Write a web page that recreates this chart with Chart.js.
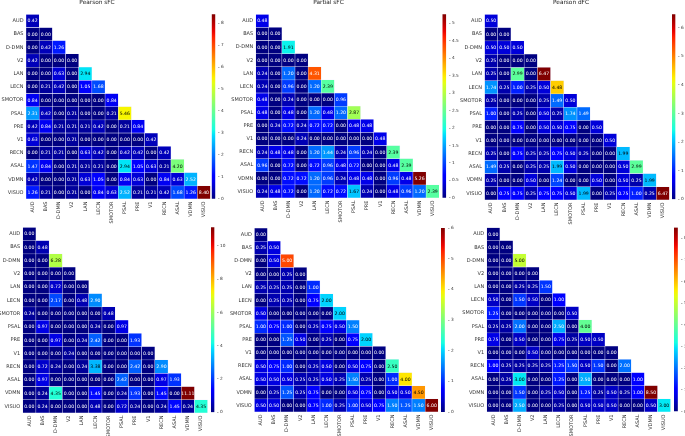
<!DOCTYPE html>
<html>
<head>
<meta charset="utf-8">
<script src="https://cdn.jsdelivr.net/npm/chart.js@4.4.1/dist/chart.umd.min.js"></script>
<style>
  html, body { margin: 0; padding: 0; background: #fff; }
  #fig { position: relative; width: 685px; height: 436px; overflow: hidden; }
  #fig canvas { position: absolute; }
  .ttl { position: absolute; font: 5.8px/1 "DejaVu Sans", sans-serif; color: #222; white-space: nowrap; transform: translateX(-50%); }
</style>
</head>
<body>
<div id="fig"></div>
<script>
// network labels (rows top->bottom, columns left->right)
const regions = ['AUD', 'BAS', 'D-DMN', 'V2', 'LAN', 'LECN', 'SMOTOR', 'PSAL', 'PRE', 'V1', 'RECN', 'ASAL', 'VDMN', 'VISUO'];

// lower-triangular matrices, row i has i+1 values
const pearsonSfc = [
  [0.42],
  [0.00, 0.00],
  [0.00, 0.42, 1.26],
  [0.42, 0.00, 0.00, 0.00],
  [0.00, 0.00, 0.63, 0.00, 2.94],
  [0.00, 0.21, 0.42, 0.00, 1.05, 1.68],
  [0.84, 0.00, 0.00, 0.00, 0.00, 0.00, 0.84],
  [2.31, 0.42, 0.00, 0.21, 0.00, 0.00, 0.21, 5.46],
  [0.42, 0.84, 0.21, 0.21, 0.21, 0.42, 0.00, 0.21, 0.84],
  [0.63, 0.00, 0.00, 0.21, 0.00, 0.00, 0.00, 0.00, 0.00, 0.42],
  [0.00, 0.21, 0.21, 0.00, 0.63, 0.42, 0.00, 0.42, 0.42, 0.00, 0.42],
  [1.47, 0.84, 0.00, 0.21, 0.21, 0.21, 0.00, 2.94, 1.05, 0.63, 0.21, 4.20],
  [0.42, 0.00, 0.00, 0.21, 0.63, 1.05, 0.00, 0.84, 0.63, 0.00, 0.84, 0.63, 2.52],
  [1.26, 0.21, 0.00, 0.21, 0.00, 0.84, 0.63, 2.52, 0.21, 0.21, 0.42, 1.68, 1.26, 8.40]
];

const partialSfc = [
  [0.48],
  [0.00, 0.00],
  [0.00, 0.00, 1.91],
  [0.00, 0.00, 0.00, 0.00],
  [0.24, 0.00, 1.20, 0.00, 4.31],
  [0.24, 0.00, 0.96, 0.00, 1.20, 2.39],
  [0.48, 0.00, 0.24, 0.00, 0.00, 0.00, 0.96],
  [0.48, 0.00, 0.48, 0.00, 1.20, 0.48, 1.20, 2.87],
  [0.00, 0.24, 0.72, 0.24, 0.72, 0.72, 0.00, 0.48, 0.48],
  [0.00, 0.00, 0.00, 0.24, 0.00, 0.00, 0.00, 0.00, 0.00, 0.48],
  [0.24, 0.48, 0.48, 0.00, 1.20, 1.44, 0.24, 0.96, 0.24, 0.00, 2.39],
  [0.96, 0.00, 0.72, 0.00, 0.72, 0.96, 0.48, 0.72, 0.00, 0.00, 0.48, 2.39],
  [0.00, 0.00, 0.72, 0.72, 1.20, 0.96, 0.24, 0.48, 0.48, 0.00, 0.96, 0.48, 5.26],
  [0.24, 0.48, 0.72, 0.00, 1.20, 0.72, 0.72, 1.67, 0.24, 0.00, 0.48, 0.96, 1.20, 2.39]
];

const pearsonDfc = [
  [0.50],
  [0.00, 0.00],
  [0.50, 0.50, 0.50],
  [0.25, 0.00, 0.00, 0.00],
  [0.25, 0.00, 2.99, 0.00, 6.47],
  [1.74, 0.25, 1.00, 0.25, 0.50, 4.48],
  [0.25, 0.00, 0.00, 0.00, 0.25, 1.49, 0.50],
  [1.00, 0.00, 0.25, 0.00, 0.50, 0.25, 1.74, 1.49],
  [0.00, 0.00, 0.75, 0.00, 0.50, 0.50, 0.75, 0.00, 0.50],
  [0.00, 0.00, 0.00, 0.00, 0.00, 0.00, 0.00, 0.00, 0.00, 0.50],
  [0.25, 0.00, 0.75, 0.25, 0.25, 0.75, 0.50, 0.25, 0.00, 0.00, 1.99],
  [1.49, 0.25, 0.00, 0.25, 0.25, 1.99, 0.50, 0.00, 0.00, 0.00, 0.50, 2.99],
  [0.25, 0.00, 0.00, 0.50, 0.00, 1.24, 0.00, 0.00, 0.50, 0.00, 0.50, 0.25, 1.99],
  [0.00, 0.75, 0.75, 0.25, 0.75, 0.75, 0.50, 1.99, 0.00, 0.25, 0.75, 1.00, 0.25, 6.47]
];

const lowerLeft = [
  [0.00],
  [0.00, 0.48],
  [0.00, 0.00, 6.28],
  [0.00, 0.00, 0.00, 0.00],
  [0.00, 0.00, 0.72, 0.00, 0.00],
  [0.00, 0.00, 2.17, 0.00, 0.48, 2.90],
  [0.24, 0.00, 0.00, 0.00, 0.00, 0.00, 0.48],
  [0.00, 0.97, 0.00, 0.00, 0.00, 0.24, 0.00, 0.97],
  [0.00, 0.00, 0.97, 0.00, 0.24, 2.42, 0.00, 0.00, 1.93],
  [0.00, 0.00, 0.00, 0.24, 0.00, 0.00, 0.00, 0.00, 0.00, 0.00],
  [0.00, 0.72, 0.24, 0.00, 0.24, 3.38, 0.00, 0.00, 2.42, 0.00, 2.90],
  [0.00, 0.97, 0.00, 0.00, 0.00, 0.00, 0.00, 2.42, 0.00, 0.00, 0.97, 1.93],
  [0.00, 0.24, 4.35, 0.00, 0.00, 1.45, 0.00, 0.24, 1.93, 0.00, 1.45, 0.00, 11.11],
  [0.00, 0.24, 0.00, 0.00, 0.00, 0.48, 0.00, 0.72, 0.24, 0.00, 0.24, 1.45, 0.24, 4.35]
];

const lowerMid = [
  [0.00],
  [0.25, 0.50],
  [0.00, 0.50, 5.00],
  [0.00, 0.00, 0.25, 0.00],
  [0.25, 0.25, 0.25, 0.00, 1.00],
  [0.00, 0.25, 0.25, 0.00, 0.75, 2.00],
  [0.50, 0.00, 0.00, 0.00, 0.00, 0.00, 2.00],
  [1.00, 0.75, 1.00, 0.00, 0.25, 0.75, 0.50, 1.50],
  [0.00, 0.00, 1.25, 0.50, 0.00, 0.25, 0.00, 0.75, 2.00],
  [0.00, 0.00, 0.00, 0.00, 0.00, 0.00, 0.00, 0.00, 0.00, 0.00],
  [0.50, 0.75, 1.00, 0.00, 0.25, 0.50, 0.00, 0.50, 0.75, 0.00, 2.50],
  [0.50, 0.50, 0.50, 0.25, 0.25, 0.50, 0.25, 1.50, 0.25, 0.00, 1.00, 4.00],
  [0.00, 0.25, 1.25, 0.25, 0.75, 0.00, 0.00, 0.50, 0.75, 0.00, 0.50, 0.50, 4.50],
  [0.50, 0.50, 0.00, 0.00, 0.75, 1.00, 0.25, 1.00, 0.50, 0.75, 1.50, 1.25, 1.50, 6.00]
];

const lowerRight = [
  [0.00],
  [0.00, 0.00],
  [0.00, 0.00, 5.00],
  [0.00, 0.00, 0.00, 0.00],
  [0.00, 0.00, 0.25, 0.25, 1.50],
  [0.50, 0.00, 1.50, 0.50, 0.00, 1.00],
  [1.25, 0.00, 0.00, 0.00, 0.00, 0.00, 0.50],
  [0.25, 0.25, 2.00, 0.00, 0.00, 2.50, 0.00, 4.00],
  [0.75, 0.00, 0.50, 0.00, 0.00, 0.75, 0.25, 0.50, 0.50],
  [0.00, 0.00, 0.00, 0.50, 0.00, 0.00, 0.00, 0.00, 0.00, 0.00],
  [1.00, 0.25, 0.25, 0.25, 0.25, 1.25, 1.50, 0.50, 1.50, 0.00, 2.00],
  [0.00, 0.25, 3.00, 0.00, 0.00, 1.25, 0.00, 2.50, 0.00, 0.00, 0.00, 1.00],
  [0.00, 0.00, 1.50, 0.00, 0.25, 0.50, 0.00, 1.25, 0.25, 0.50, 0.25, 1.00, 8.50],
  [0.00, 0.00, 2.50, 0.00, 0.00, 0.25, 0.00, 0.50, 0.50, 0.50, 0.00, 0.00, 0.50, 3.00]
];

// colorbar tick values
const cbTicksPearsonSfc = [0, 1, 2, 3, 4, 5, 6, 7, 8];
const cbTicksPartialSfc = [0, 0.5, 1, 1.5, 2, 2.5, 3, 3.5, 4, 4.5, 5];
const cbTicksPearsonDfc = [0, 1, 2, 3, 4, 5, 6];
const cbTicksLowerLeft = [0, 2, 4, 6, 8, 10];
const cbTicksLowerMid = [0, 1, 2, 3, 4, 5, 6];
const cbTicksLowerRight = [0, 1, 2, 3, 4, 5, 6, 7, 8];

// matplotlib "jet"
const JET_R = [[0, 0], [0.35, 0], [0.66, 1], [0.89, 1], [1, 0.5]];
const JET_G = [[0, 0], [0.125, 0], [0.375, 1], [0.64, 1], [0.91, 0], [1, 0]];
const JET_B = [[0, 0.5], [0.11, 1], [0.34, 1], [0.65, 0], [1, 0]];
function seg(stops, t) {
  for (let k = 0; k < stops.length - 1; k++) {
    const [a, va] = stops[k], [b, vb] = stops[k + 1];
    if (t <= b) return va + (vb - va) * (t - a) / (b - a);
  }
  return stops[stops.length - 1][1];
}
function jet(t) {
  t = Math.min(1, Math.max(0, t));
  return [seg(JET_R, t), seg(JET_G, t), seg(JET_B, t)];
}
const rgb = c => `rgb(${c.map(v => Math.round(v * 255)).join(',')})`;
function luminance(c) {
  const l = c.map(v => v <= 0.03928 ? v / 12.92 : Math.pow((v + 0.055) / 1.055, 2.4));
  return 0.2126 * l[0] + 0.7152 * l[1] + 0.0722 * l[2];
}

const FONT = '"DejaVu Sans", sans-serif';
const fig = document.getElementById('fig');

function addCanvas(left, top, w, h) {
  const c = document.createElement('canvas');
  c.width = w; c.height = h;
  c.style.left = left + 'px'; c.style.top = top + 'px';
  c.style.width = w + 'px'; c.style.height = h + 'px';
  fig.appendChild(c);
  return c;
}

function fixed(prop, size) {
  return scale => {
    scale[prop] = size;
    scale.paddingLeft = scale.paddingRight = scale.paddingTop = scale.paddingBottom = 0;
  };
}

const YW = 30, XH = 32;

function heatmap(rows, box) {
  const vmax = Math.max(...rows.flat());
  const cl = Math.floor(box.left) - YW, ct = Math.floor(box.top) - 12;
  const padL = box.left - YW - cl, padT = box.top - ct;
  const w = Math.ceil(YW + padL + box.size + 2), h = Math.ceil(padT + box.size + XH);
  const canvas = addCanvas(cl, ct, w, h);

  const datasets = rows.map((row, i) => ({
    data: regions.map((_, j) => j <= i ? [i, i + 1] : null),
    backgroundColor: regions.map((_, j) => j <= i ? rgb(jet(row[j] / vmax)) : 'rgba(0,0,0,0)'),
    borderColor: 'rgba(235,235,255,0.8)',
    borderWidth: 0.5,
    borderSkipped: false,
    barPercentage: 1,
    categoryPercentage: 1,
    grouped: false
  }));

  const annotate = {
    id: 'annotate',
    afterDatasetsDraw(chart) {
      const { ctx, scales: { x, y } } = chart;
      ctx.save();
      ctx.font = `4.6px ${FONT}`;
      ctx.textAlign = 'center';
      ctx.textBaseline = 'middle';
      rows.forEach((row, i) => row.forEach((v, j) => {
        ctx.fillStyle = luminance(jet(v / vmax)) > 0.408 ? '#000' : '#fff';
        ctx.fillText(v.toFixed(2), x.getPixelForValue(j), y.getPixelForValue(i + 0.5) + 0.3);
      }));
      ctx.restore();
    }
  };

  new Chart(canvas, {
    type: 'bar',
    data: { labels: regions, datasets },
    options: {
      responsive: false, animation: false, events: [], devicePixelRatio: 1,
      layout: { padding: { left: padL, top: padT, right: w - YW - padL - box.size, bottom: 0 } },
      plugins: { legend: { display: false }, tooltip: { enabled: false }, title: { display: false } },
      scales: {
        x: {
          type: 'category', offset: true,
          grid: { display: false, drawTicks: false }, border: { display: false },
          ticks: { autoSkip: false, minRotation: 90, maxRotation: 90, padding: 2.5, color: '#333', font: { family: FONT, size: 5 } },
          afterFit: fixed('height', XH)
        },
        y: {
          type: 'linear', min: 0, max: regions.length, reverse: true,
          grid: { display: false, drawTicks: false }, border: { display: false },
          afterBuildTicks: axis => { axis.ticks = regions.map((_, i) => ({ value: i + 0.5 })); },
          ticks: { autoSkip: false, padding: 2.5, color: '#333', font: { family: FONT, size: 5 }, callback: v => regions[Math.floor(v)] },
          afterFit: fixed('width', YW)
        }
      }
    },
    plugins: [annotate]
  });
  return vmax;
}

function colorbar(vmax, ticks, box) {
  const AW = 18;
  const cl = Math.floor(box.left), ct = Math.floor(box.top) - 4;
  const padL = box.left - cl, padT = box.top - ct;
  const w = Math.ceil(padL + box.width + AW), h = Math.ceil(padT + box.height + 4);
  const canvas = addCanvas(cl, ct, w, h);
  new Chart(canvas, {
    type: 'bar',
    data: {
      labels: [''],
      datasets: [{
        data: [[0, vmax]],
        barPercentage: 1, categoryPercentage: 1, borderWidth: 0,
        backgroundColor: c => {
          const a = c.chart.chartArea;
          if (!a) return '#00007f';
          const g = c.chart.ctx.createLinearGradient(0, a.bottom, 0, a.top);
          for (let k = 0; k <= 32; k++) g.addColorStop(k / 32, rgb(jet(k / 32)));
          return g;
        }
      }]
    },
    options: {
      responsive: false, animation: false, events: [], devicePixelRatio: 1,
      layout: { padding: { left: padL, top: padT, right: 0, bottom: h - padT - box.height } },
      plugins: { legend: { display: false }, tooltip: { enabled: false } },
      scales: {
        x: { display: false, offset: false },
        y: {
          type: 'linear', position: 'right', min: 0, max: vmax,
          border: { display: false },
          grid: { drawOnChartArea: false, drawTicks: true, tickLength: 1.5, color: '#666', lineWidth: 0.5 },
          afterBuildTicks: axis => { axis.ticks = ticks.map(v => ({ value: v })); },
          ticks: { autoSkip: false, padding: 1.5, color: '#333', font: { family: FONT, size: 4.3 }, callback: v => String(v) },
          afterFit: fixed('width', AW)
        }
      }
    }
  });
}

function title(text, cx) {
  const d = document.createElement('div');
  d.className = 'ttl';
  d.textContent = text;
  d.style.left = cx + 'px';
  d.style.top = '0.4px';
  fig.appendChild(d);
}

const panels = [
  { rows: pearsonSfc, ticks: cbTicksPearsonSfc, title: 'Pearson sFC', tx: 97, hm: { left: 26, top: 14.3, size: 184.5 }, cb: { left: 211.8, width: 5.6 } },
  { rows: partialSfc, ticks: cbTicksPartialSfc, title: 'Partial sFC', tx: 328.5, hm: { left: 255.7, top: 14.3, size: 183.5 }, cb: { left: 442.5, width: 6 } },
  { rows: pearsonDfc, ticks: cbTicksPearsonDfc, title: 'Pearson dFC', tx: 571, hm: { left: 484.5, top: 14.3, size: 185 }, cb: { left: 672, width: 6 } },
  { rows: lowerLeft, ticks: cbTicksLowerLeft, hm: { left: 22.7, top: 227.3, size: 185 }, cb: { left: 211, width: 6 } },
  { rows: lowerMid, ticks: cbTicksLowerMid, hm: { left: 254.3, top: 228, size: 184 }, cb: { left: 441, width: 6.5 } },
  { rows: lowerRight, ticks: cbTicksLowerRight, hm: { left: 486.7, top: 227.5, size: 184 }, cb: { left: 674, width: 6.5 } }
];

panels.forEach(p => {
  const vmax = heatmap(p.rows, p.hm);
  colorbar(vmax, p.ticks, { left: p.cb.left, top: p.hm.top, width: p.cb.width, height: p.hm.size });
  if (p.title) title(p.title, p.tx);
});
</script>
</body>
</html>
